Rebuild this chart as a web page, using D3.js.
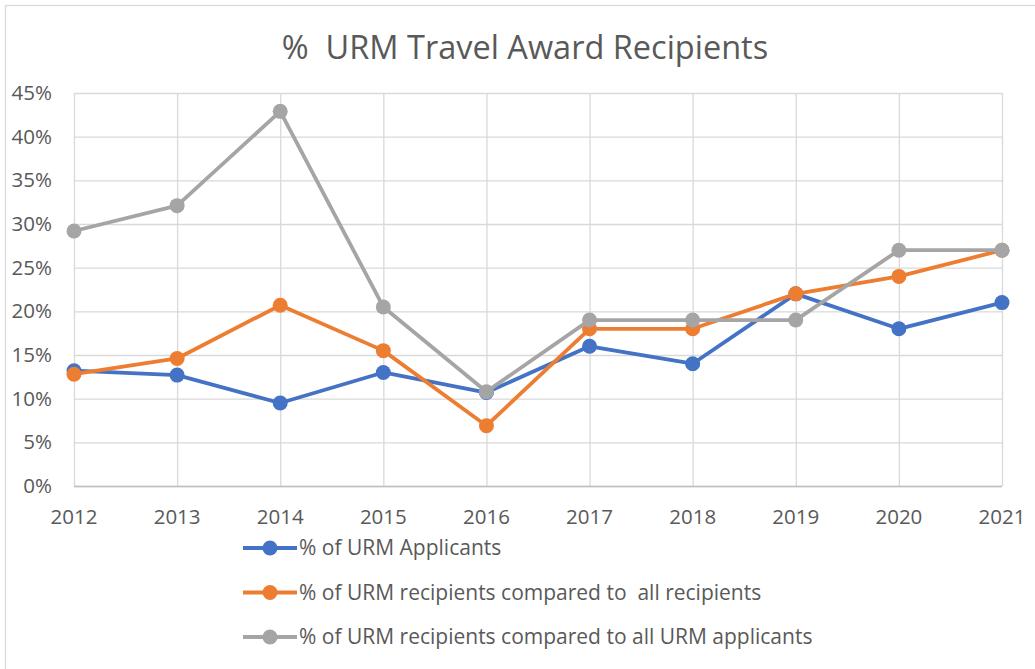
<!DOCTYPE html>
<html>
<head>
<meta charset="utf-8">
<script src="https://cdn.jsdelivr.net/npm/d3@7"></script>
<style>
  body { margin: 0; background: #fff; }
  svg { display: block; font-family: "Open Sans", Lato, sans-serif; }
</style>
</head>
<body>
<svg id="chart" width="1035" height="669"></svg>
<script>
// data
const years = ["2012","2013","2014","2015","2016","2017","2018","2019","2020","2021"];
const applicants     = [13.2, 12.7, 9.5, 13.0, 10.7, 16, 14, 22, 18, 21];
const vsAllRecip     = [12.8, 14.6, 20.7, 15.5, 6.9, 18, 18, 22, 24, 27];
const vsUrmApplicants= [29.2, 32.1, 42.9, 20.5, 10.8, 19, 19, 19, 27, 27];
const seriesNames = [
  "% of URM Applicants",
  "% of URM recipients compared to  all recipients",
  "% of URM recipients compared to all URM applicants"
];
const yTicks = [0, 5, 10, 15, 20, 25, 30, 35, 40, 45];

const series = [
  {name: seriesNames[0], values: applicants, color: "#4472C4"},
  {name: seriesNames[1], values: vsAllRecip, color: "#ED7D31"},
  {name: seriesNames[2], values: vsUrmApplicants, color: "#A5A5A5"}
];

const svg = d3.select("#chart");
const margin = {top: 93, left: 74, right: 33, bottom: 183};
const width = 1035, height = 669;

// chart border
svg.append("rect")
  .attr("x", 5.5).attr("y", 5.5)
  .attr("width", width + 10).attr("height", height + 10)
  .attr("fill", "none").attr("stroke", "#d9d9d9").attr("stroke-width", 1.3);

svg.append("text")
  .attr("x", 525).attr("y", 59)
  .attr("text-anchor", "middle")
  .attr("font-size", 32.5)
  .attr("fill", "#595959")
  .attr("xml:space", "preserve")
  .text("%  URM Travel Award Recipients");

const x = d3.scalePoint()
  .domain(years)
  .range([margin.left, width - margin.right]);
const y = d3.scaleLinear()
  .domain([0, 45])
  .range([height - margin.bottom, margin.top]);

// horizontal gridlines
svg.append("g")
  .selectAll("line")
  .data(yTicks)
  .enter().append("line")
  .attr("x1", margin.left).attr("x2", width - margin.right)
  .attr("y1", d => y(d) + 0.5).attr("y2", d => y(d) + 0.5)
  .attr("stroke", "#d9d9d9").attr("stroke-width", 1.3);

// vertical gridlines
svg.append("g")
  .selectAll("line")
  .data(years)
  .enter().append("line")
  .attr("x1", d => x(d) + 0.5).attr("x2", d => x(d) + 0.5)
  .attr("y1", margin.top).attr("y2", height - margin.bottom)
  .attr("stroke", "#d9d9d9").attr("stroke-width", 1.3);

// bottom axis line
svg.append("line")
  .attr("x1", margin.left).attr("x2", width - margin.right)
  .attr("y1", y(0) + 0.5).attr("y2", y(0) + 0.5)
  .attr("stroke", "#bfbfbf").attr("stroke-width", 1.3);

// y labels
svg.append("g")
  .selectAll("text")
  .data(yTicks)
  .enter().append("text")
  .attr("x", 52)
  .attr("y", d => y(d) + 7)
  .attr("text-anchor", "end")
  .attr("font-size", 20.5)
  .attr("fill", "#595959")
  .text(d => d + "%");

// x labels
svg.append("g")
  .selectAll("text")
  .data(years)
  .enter().append("text")
  .attr("x", d => x(d))
  .attr("y", 524)
  .attr("text-anchor", "middle")
  .attr("font-size", 20.5)
  .attr("fill", "#595959")
  .text(d => d);

const line = d3.line()
  .x((d, i) => x(years[i]))
  .y(d => y(d));

const g = svg.selectAll(".series")
  .data(series)
  .enter().append("g")
  .attr("class", "series");

g.append("path")
  .attr("d", d => line(d.values))
  .attr("fill", "none")
  .attr("stroke", d => d.color)
  .attr("stroke-width", 3.8)
  .attr("stroke-linejoin", "round");

g.selectAll("circle")
  .data(d => d.values.map(v => ({v, color: d.color})))
  .enter().append("circle")
  .attr("cx", (d, i) => x(years[i]))
  .attr("cy", d => y(d.v))
  .attr("r", 7.5)
  .attr("fill", d => d.color);

// legend
const legend = svg.append("g")
  .selectAll("g")
  .data(series)
  .enter().append("g")
  .attr("transform", (d, i) => "translate(243," + (548 + i * 44.5) + ")");

legend.append("line")
  .attr("x1", 0).attr("x2", 54)
  .attr("stroke", d => d.color).attr("stroke-width", 3.8);
legend.append("circle")
  .attr("cx", 27).attr("r", 7.5)
  .attr("fill", d => d.color);
legend.append("text")
  .attr("x", 56).attr("y", 7)
  .attr("font-size", 21)
  .attr("fill", "#595959")
  .attr("xml:space", "preserve")
  .text(d => d.name);
</script>
</body>
</html>
